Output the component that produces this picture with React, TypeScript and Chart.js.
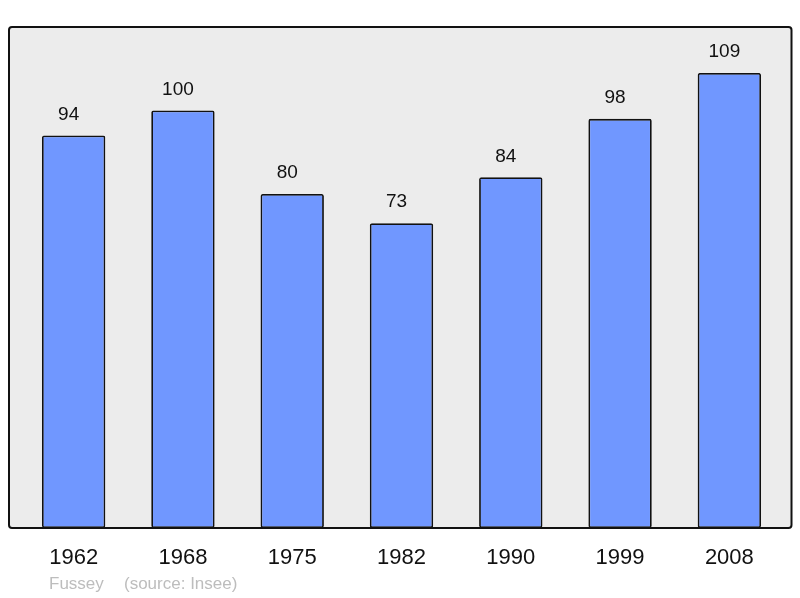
import React, { useEffect, useRef } from "react";
import { Chart, registerables } from "chart.js";

Chart.register(...registerables);

const categories = ["1962", "1968", "1975", "1982", "1990", "1999", "2008"];
const population = [94, 100, 80, 73, 84, 98, 109];
const footerName = "Fussey";
const footerSource = "(source: Insee)";

const FONT = '"Liberation Sans", Arial, sans-serif';

const boxPlugin = {
  id: "boxPlugin",
  beforeDatasetsDraw(chart: any) {
    const { ctx, chartArea } = chart;
    const l = chartArea.left - 10, r = chartArea.right + 7.5, t = chartArea.top, b = chartArea.bottom;
    ctx.save();
    ctx.beginPath();
    ctx.roundRect(l, t, r - l, b - t, 3);
    ctx.fillStyle = "#ececec";
    ctx.fill();
    ctx.restore();
  },
  afterDatasetsDraw(chart: any) {
    const { ctx, chartArea } = chart;
    const l = chartArea.left - 10, r = chartArea.right + 7.5, t = chartArea.top, b = chartArea.bottom;
    ctx.save();
    ctx.beginPath();
    ctx.roundRect(l, t, r - l, b - t, 3);
    ctx.lineWidth = 2;
    ctx.strokeStyle = "#111";
    ctx.stroke();
    // value labels
    const meta = chart.getDatasetMeta(0);
    ctx.fillStyle = "#111";
    ctx.font = `19px ${FONT}`;
    ctx.textAlign = "center";
    ctx.textBaseline = "middle";
    meta.data.forEach((bar: any, i: number) => {
      ctx.fillText(String(population[i]), bar.x - 5, bar.y - 21);
    });
    // footer
    ctx.fillStyle = "#bdbdbd";
    ctx.font = `17px ${FONT}`;
    ctx.textAlign = "left";
    ctx.fillText(footerName, 49, 584);
    ctx.fillText(footerSource, 124, 584);
    ctx.restore();
  },
};

export default function App() {
  const ref = useRef<HTMLCanvasElement>(null);
  useEffect(() => {
    const chart = new Chart(ref.current!, {
      type: "bar",
      data: {
        labels: categories,
        datasets: [
          {
            data: population,
            backgroundColor: "#7097ff",
            borderColor: "#111",
            borderWidth: 1.8,
            borderRadius: 2,
            borderSkipped: false,
            barPercentage: 0.58,
            categoryPercentage: 1,
          },
        ],
      },
      options: {
        animation: false,
        responsive: true,
        maintainAspectRatio: false,
        layout: { padding: { top: 27, left: 19, right: 16, bottom: 0 } },
        plugins: { legend: { display: false }, tooltip: { enabled: false } },
        scales: {
          y: { display: false, min: 0, max: 120 },
          x: {
            grid: { display: false, drawTicks: false },
            border: { display: false },
            ticks: { color: "#111", font: { family: FONT, size: 22 }, padding: 17 },
            afterFit: (scale: any) => {
              scale.height = 70;
            },
          },
        },
      },
      plugins: [boxPlugin],
    });
    return () => chart.destroy();
  }, []);
  return (
    <div style={{ position: "fixed", left: 0, top: 0, width: 800, height: 598, background: "#fff" }}>
      <canvas ref={ref} />
    </div>
  );
}
